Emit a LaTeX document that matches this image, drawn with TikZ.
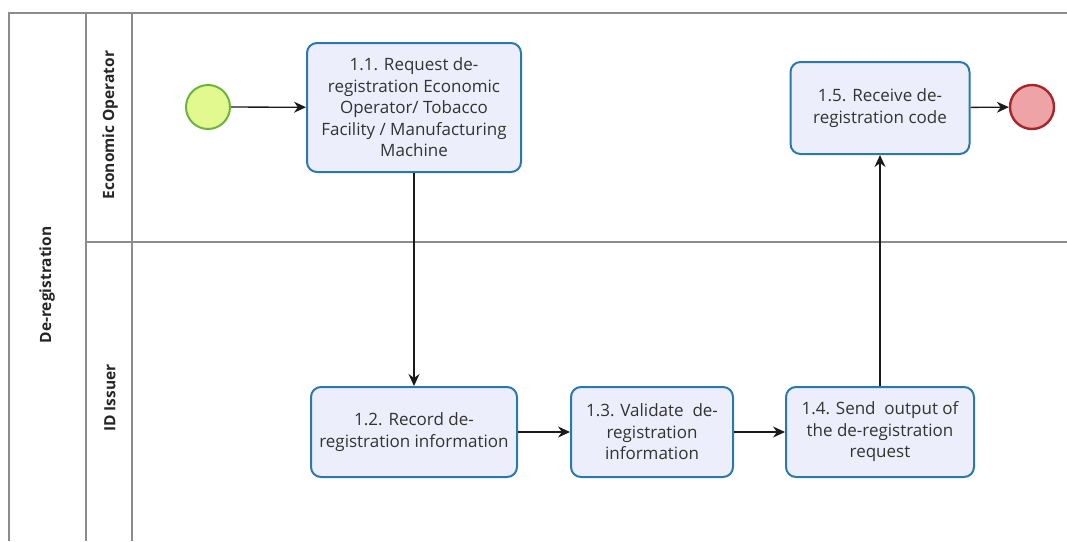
\documentclass[tikz,border=0pt]{standalone}
\usepackage{fontspec}
\setmainfont{Open Sans}
\usetikzlibrary{arrows.meta}
\definecolor{poolline}{HTML}{8C8C8C}
\definecolor{taskline}{HTML}{2A78AC}
\definecolor{taskfill}{HTML}{ECEFFB}
\definecolor{startline}{HTML}{6DB33F}
\definecolor{startfill}{HTML}{E2F98F}
\definecolor{endline}{HTML}{A8262B}
\definecolor{endfill}{HTML}{EEA3A6}
\definecolor{flowline}{HTML}{1A1A1A}
\tikzset{
  pool/.style={draw=poolline, line width=1.4pt},
  lanetext/.style={rotate=90, font=\fontsize{15.5}{17}\selectfont\bfseries, text=black!85},
  task/.style={draw=taskline, fill=taskfill, line width=2pt, rounded corners=10pt,
    align=center, inner sep=2pt, text=black!80,
    font=\fontsize{17}{21.5}\selectfont},
  startev/.style={circle, draw=startline, fill=startfill, line width=2pt, minimum size=44pt, inner sep=0pt},
  endev/.style={circle, draw=endline, fill=endfill, line width=2.4pt, minimum size=44pt, inner sep=0pt},
  flow/.style={draw=flowline, line width=1.3pt, -{Stealth[length=12pt,width=11pt]}}
}
\begin{document}
\begin{tikzpicture}[x=1pt, y=-1pt]
\useasboundingbox (0,0) rectangle (1067,541);
% pool and lanes
\draw[pool] (9,541) -- (9,13) -- (1067,13);
\draw[pool] (86,13) -- (86,541);
\draw[pool] (132,13) -- (132,541);
\draw[pool] (86,242) -- (1067,242);
\node[lanetext] (pool) at (47,285) {De-registration};
\node[lanetext] (laneEO) at (110,125) {Economic Operator};
\node[lanetext] (laneID) at (110,398) {ID Issuer};
% events
\node[startev] (start) at (208,107) {};
\node[endev] (end) at (1032,107) {};
% tasks
\node[task, minimum width=214pt, minimum height=129pt] (t1) at (414,107.5)
  {1.1. Request de-\\registration Economic\\Operator/ Tobacco\\Facility / Manufacturing\\Machine};
\node[task, minimum width=179pt, minimum height=92pt] (t5) at (880,108)
  {1.5. Receive de-\\registration code};
\node[task, minimum width=206pt, minimum height=90pt] (t2) at (414,432)
  {1.2. Record de-\\registration information};
\node[task, minimum width=162pt, minimum height=90pt] (t3) at (652,432)
  {1.3. Validate~~de-\\registration\\information};
\node[task, minimum width=188pt, minimum height=90pt] (t4) at (880,432)
  {1.4. Send~~output of\\the de-registration\\request};
% sequence flows
\draw[flow] (start) -- (t1);
\draw[flow] (t1) -- (t2);
\draw[flow] (t2) -- (t3);
\draw[flow] (t3) -- (t4);
\draw[flow] (t4) -- (t5);
\draw[flow] (t5) -- (end);
\end{tikzpicture}
\end{document}
